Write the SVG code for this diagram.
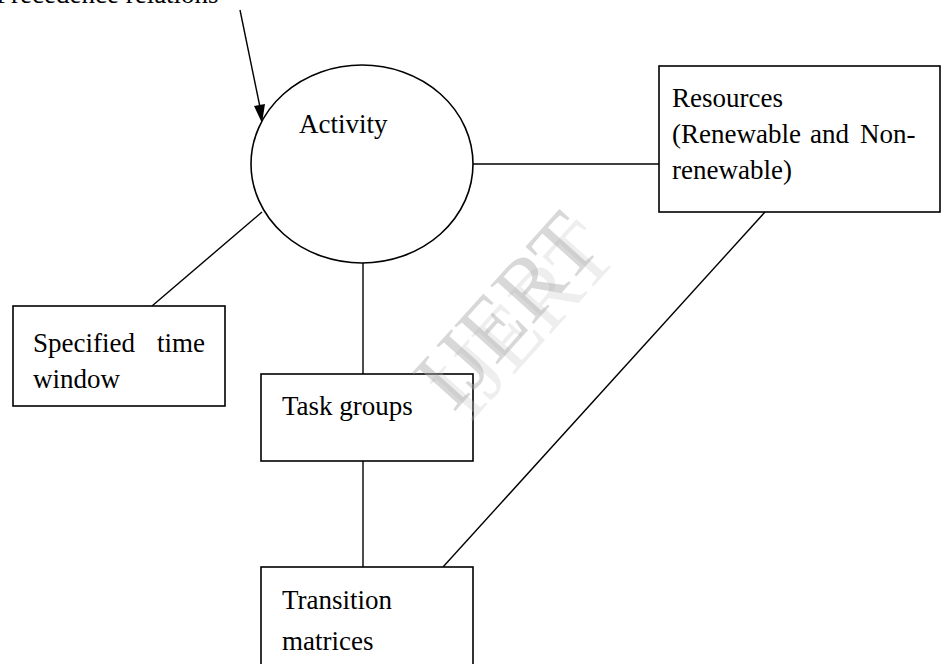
<svg xmlns="http://www.w3.org/2000/svg" width="942" height="664" viewBox="0 0 942 664">
  <style>
    .box { fill: #ffffff; stroke: #000000; stroke-width: 1.6; }
    .edge { fill: none; stroke: #000000; stroke-width: 1.4; }
    .lbl { font-family: "Liberation Serif", "Times New Roman", serif; font-size: 27px; fill: #000000; }
    .wm { font-family: "Liberation Serif", "Times New Roman", serif; font-size: 88px; }
  </style>
  <rect width="942" height="664" fill="#ffffff"/>

  <g id="connectors">
    <line class="edge" x1="240" y1="10" x2="261" y2="112"/>
    <path d="M254,106 L265,104 L262,123 Z" fill="#000000"/>
    <line class="edge" x1="473" y1="164" x2="659" y2="164"/>
    <line class="edge" x1="152" y1="306" x2="262" y2="212"/>
    <line class="edge" x1="363" y1="263" x2="363" y2="374"/>
    <line class="edge" x1="363" y1="461" x2="363" y2="567"/>
    <line class="edge" x1="765" y1="212" x2="443" y2="567"/>
  </g>

  <g id="precedence">
    <text class="lbl" x="-4" y="3">Precedence relations</text>
  </g>

  <g id="activity">
    <ellipse class="box" cx="362" cy="164" rx="111" ry="99"/>
    <text class="lbl" x="299" y="133">Activity</text>
  </g>

  <g id="resources">
    <rect class="box" x="659" y="66" width="281" height="146"/>
    <text class="lbl" x="672" y="107">Resources</text>
    <text class="lbl" y="143"><tspan x="672">(Renewable</tspan><tspan x="810">and</tspan><tspan x="860">Non-</tspan></text>
    <text class="lbl" x="672" y="179">renewable)</text>
  </g>

  <g id="time-window">
    <rect class="box" x="13" y="306" width="212" height="100"/>
    <text class="lbl" y="352"><tspan x="33">Specified</tspan><tspan x="157">time</tspan></text>
    <text class="lbl" x="33" y="388">window</text>
  </g>

  <g id="task-groups">
    <rect class="box" x="261" y="374" width="212" height="87"/>
    <text class="lbl" x="282" y="415">Task groups</text>
  </g>

  <g id="transition">
    <rect class="box" x="261" y="567" width="212" height="110"/>
    <text class="lbl" x="282" y="609">Transition</text>
    <text class="lbl" x="282" y="650">matrices</text>
  </g>

  <g id="watermark">
    <text class="wm" x="0" y="0" text-anchor="middle" fill="#c8c8c8" fill-opacity="0.3" transform="translate(545,340) rotate(-48)">IJERT</text>
    <text class="wm" x="0" y="0" text-anchor="middle" fill="#a8a8a8" fill-opacity="0.45" transform="translate(528,330) rotate(-48)">IJERT</text>
  </g>
</svg>
